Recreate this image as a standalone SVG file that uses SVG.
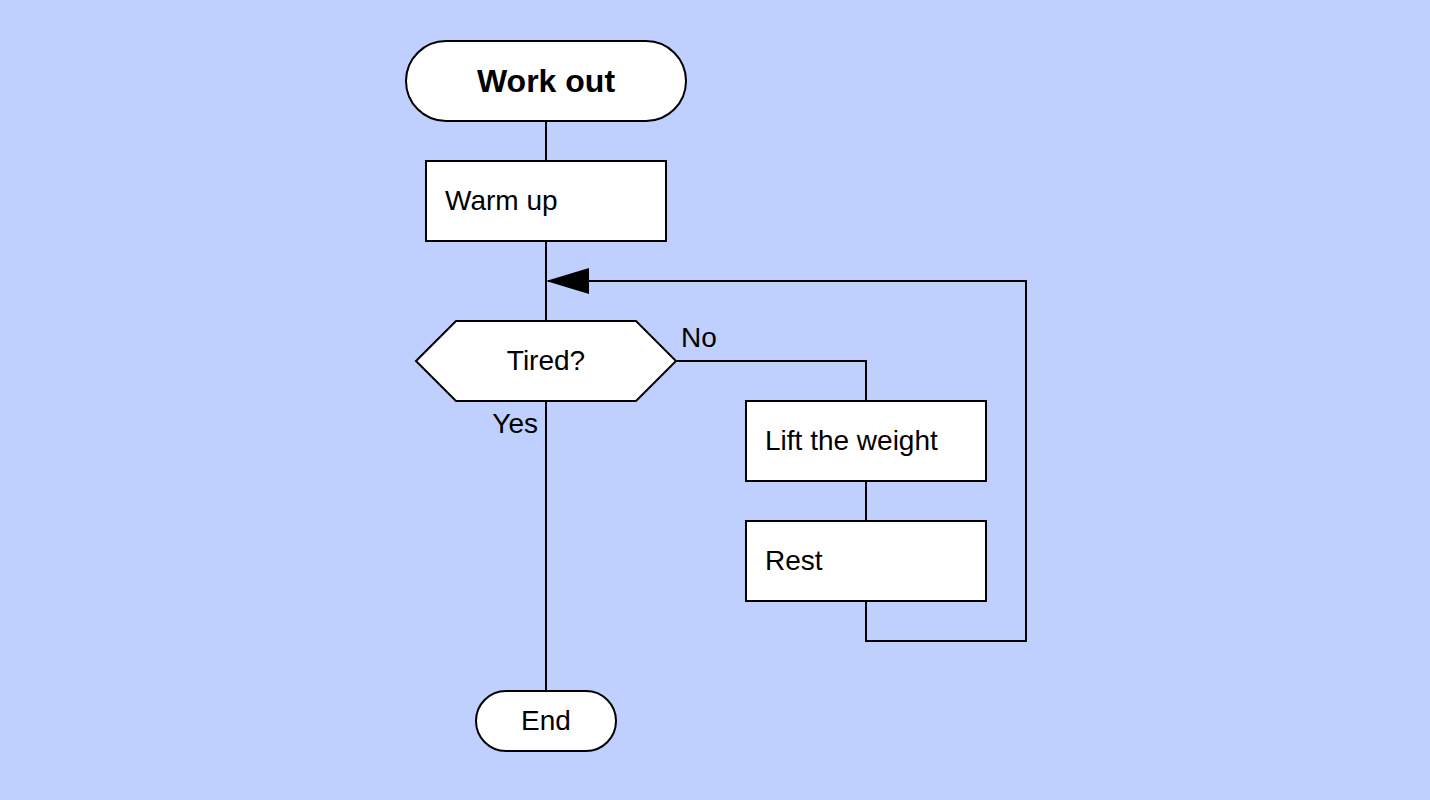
<svg xmlns="http://www.w3.org/2000/svg" width="1430" height="800" viewBox="0 0 1430 800">
<defs>
<style>
.n{fill:#fff;stroke:#000;stroke-width:2}
.c{fill:none;stroke:#000;stroke-width:2}
text{font-family:"Liberation Sans",Arial,sans-serif;font-size:28px;fill:#000}
.m{text-anchor:middle}
.t{font-weight:bold;font-size:32px}
</style>
</defs>
<rect width="1430" height="800" fill="#c0d0fe"/>
<g id="connectors">
<path class="c" d="M546,121V161"/>
<path class="c" d="M546,241V321"/>
<path class="c" d="M546,401V691"/>
<path class="c" d="M676,361H866V401"/>
<path class="c" d="M866,481V521"/>
<path class="c" d="M866,601V641H1026V281H548"/>
<path d="M546,281 L589,268 L589,294 Z" fill="#000"/>
<text x="681" y="347">No</text>
<text x="538" y="433" text-anchor="end">Yes</text>
</g>
<g id="start"><rect class="n" x="406" y="41" width="280" height="80" rx="40"/><text class="m t" x="546" y="92">Work out</text></g>
<g id="warmup"><rect class="n" x="426" y="161" width="240" height="80"/><text x="445" y="210">Warm up</text></g>
<g id="tired"><polygon class="n" points="416,361 456,321 636,321 676,361 636,401 456,401"/><text class="m" x="546" y="370">Tired?</text></g>
<g id="lift"><rect class="n" x="746" y="401" width="240" height="80"/><text x="765" y="450">Lift the weight</text></g>
<g id="rest"><rect class="n" x="746" y="521" width="240" height="80"/><text x="765" y="570">Rest</text></g>
<g id="end"><rect class="n" x="476" y="691" width="140" height="60" rx="30"/><text class="m" x="546" y="730">End</text></g>
</svg>
